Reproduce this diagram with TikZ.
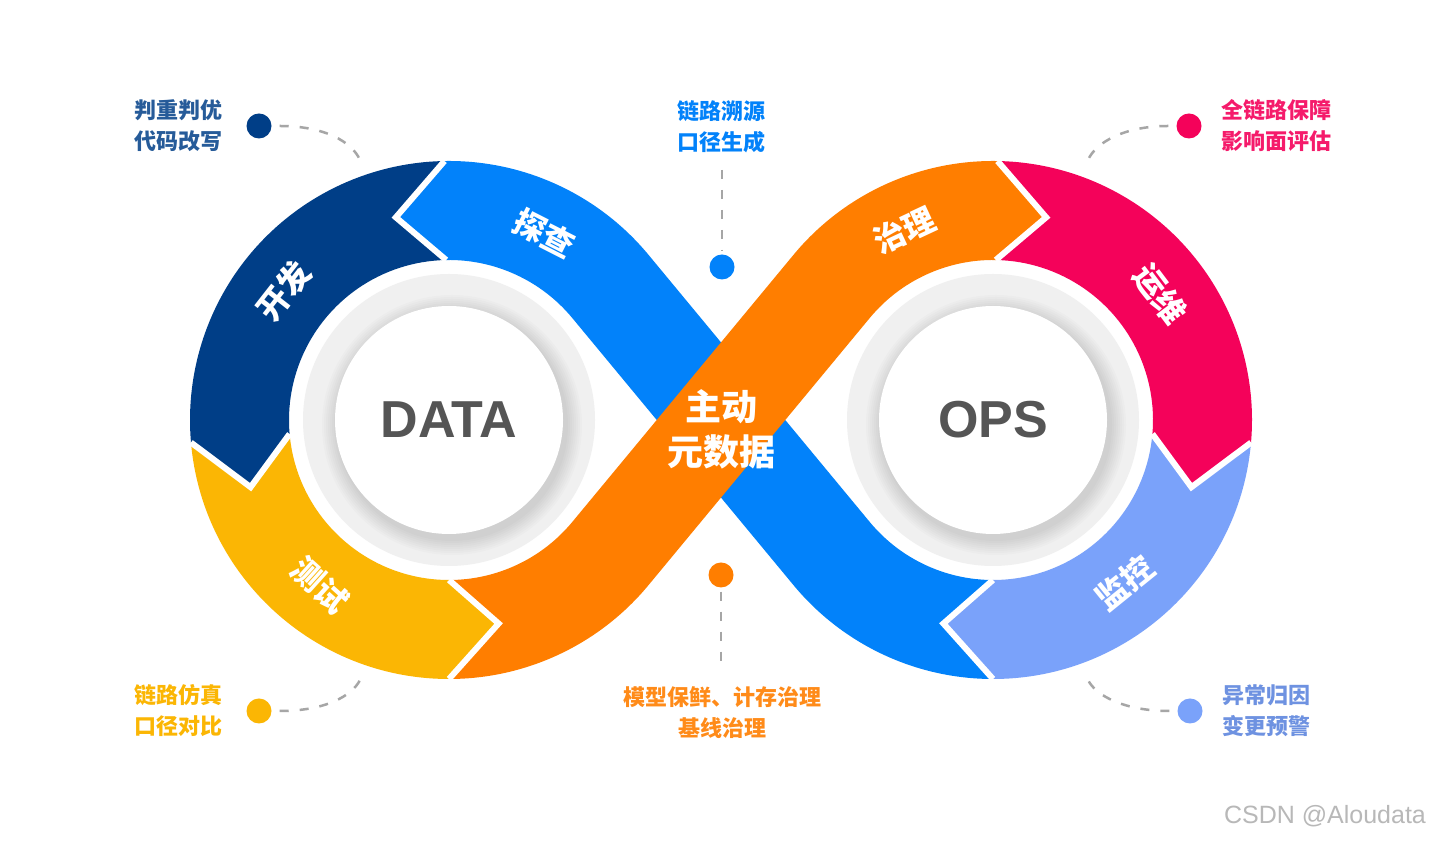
\documentclass[tikz,border=0pt]{standalone}
\usepackage{fontspec}
\setmainfont{Liberation Sans}
\newfontfamily\cjk{Noto Sans CJK SC}
\usetikzlibrary{calc, positioning}

\definecolor{kfblue}{HTML}{003E87}
\definecolor{tcblue}{HTML}{0282FA}
\definecolor{csyellow}{HTML}{FBB604}
\definecolor{zlorange}{HTML}{FF7E00}
\definecolor{ywpink}{HTML}{F4025A}
\definecolor{jkblue}{HTML}{7AA2FA}
\definecolor{hubgray}{HTML}{555555}

\def\rout{259}
\def\rin{160}
\def\rmid{209.5}

\tikzset{
	seglabel/.style = {text = white, inner sep = 0pt, font = \cjk\bfseries\fontsize{32}{32}\selectfont},
	note/.style = {inner sep = 0pt, align = center, font = \cjk\bfseries\fontsize{22}{31}\selectfont},
	notedot/.style = {circle, minimum size = 25pt, inner sep = 0pt},
	link/.style = {draw = black!35, line width = 2.5pt, dash pattern = on 9pt off 11pt},
	gapline/.style = {draw = white, line width = 6pt, line join = miter},
	hub/.style = {circle, fill = white, minimum size = 228pt, inner sep = 0pt, text = hubgray, font = \bfseries\fontsize{52}{52}\selectfont},
	midtext/.style = {align = center, inner sep = 0pt, font = \cjk\bfseries\fontsize{36}{45}\selectfont}
}

\begin{document}
\begin{tikzpicture}[x = 1pt, y = 1pt]
	\useasboundingbox (0,0) rectangle (1432,842);
	\fill[white] (0,0) rectangle (1432,842);
	
	\coordinate (L) at (449,422);
	\coordinate (R) at (993,422);
	
	%% discs
	\foreach \ctr/\hubtxt in {L/DATA, R/OPS} {
		\fill[black!6] (\ctr) circle[radius = 146];
		\foreach \i in {0,...,7}
		\fill[black, opacity = 0.015] ($(\ctr)+(3,-5)$) circle[radius = 116+2*\i];
		\node[hub] (\hubtxt) at (\ctr) {\hubtxt};
	}
	
	%% bands
	\fill[tcblue] ($(R)+(270:\rout)$) arc[start angle = 270, end angle = 219.6, radius = \rout]
	-- ($(L)+(39.6:\rin)$) arc[start angle = 39.6, end angle = 91, radius = \rin]
	-- ($(L)+(104.7:\rmid)$) -- ($(L)+(91:\rout)$)
	arc[start angle = 91, end angle = 39.6, radius = \rout]
	-- ($(R)+(219.6:\rin)$) arc[start angle = 219.6, end angle = 270, radius = \rin]
	-- ($(R)+(256.3:\rmid)$) -- cycle;
	
	\fill[kfblue] ($(L)+(91:\rout)$) arc[start angle = 91, end angle = 185, radius = \rout]
	-- ($(L)+(198.7:\rmid)$) -- ($(L)+(185:\rin)$)
	arc[start angle = 185, end angle = 91, radius = \rin]
	-- ($(L)+(104.7:\rmid)$) -- cycle;
	
	\fill[csyellow] ($(L)+(185:\rout)$) arc[start angle = 185, end angle = 270, radius = \rout]
	-- ($(L)+(283.7:\rmid)$) -- ($(L)+(270:\rin)$)
	arc[start angle = 270, end angle = 185, radius = \rin]
	-- ($(L)+(198.7:\rmid)$) -- cycle;
	
	\fill[ywpink] ($(R)+(89:\rout)$) arc[start angle = 89, end angle = -5, radius = \rout]
	-- ($(R)+(-18.7:\rmid)$) -- ($(R)+(-5:\rin)$)
	arc[start angle = -5, end angle = 89, radius = \rin]
	-- ($(R)+(75.3:\rmid)$) -- cycle;
	
	\fill[jkblue] ($(R)+(-5:\rout)$) arc[start angle = -5, end angle = -90, radius = \rout]
	-- ($(R)+(-103.7:\rmid)$) -- ($(R)+(-90:\rin)$)
	arc[start angle = -90, end angle = -5, radius = \rin]
	-- ($(R)+(-18.7:\rmid)$) -- cycle;
	
	\fill[zlorange] ($(L)+(270:\rout)$) arc[start angle = 270, end angle = 320.4, radius = \rout]
	-- ($(R)+(140.4:\rin)$) arc[start angle = 140.4, end angle = 89, radius = \rin]
	-- ($(R)+(75.3:\rmid)$) -- ($(R)+(89:\rout)$)
	arc[start angle = 89, end angle = 140.4, radius = \rout]
	-- ($(L)+(-39.6:\rin)$) arc[start angle = -39.6, end angle = -90, radius = \rin]
	-- ($(L)+(283.7:\rmid)$) -- cycle;
	
	%% gaps between the bands
	\foreach \ctr/\a/\t in {L/91/104.7, L/185/198.7, L/270/283.7, R/89/75.3, R/-5/-18.7, R/270/256.3}
	\draw[gapline] ($(\ctr)+(\a:\rout)$) -- ($(\ctr)+(\t:\rmid)$) -- ($(\ctr)+(\a:\rin)$);
	
	%% band labels
	\node[seglabel, rotate = 52] (kaifa) at ($(L)+(142:\rmid)$) {开发};
	\node[seglabel, rotate = -27] (tancha) at ($(L)+(63:\rmid)$) {探查};
	\node[seglabel, rotate = -42] (ceshi) at ($(L)+(232:\rmid)$) {测试};
	\node[seglabel, rotate = 25] (zhili) at ($(R)+(115:\rmid)$) {治理};
	\node[seglabel, rotate = -53] (yunwei) at ($(R)+(37:\rmid)$) {运维};
	\node[seglabel, rotate = 39] (jiankong) at ($(R)+(309:\rmid)$) {监控};
	
	%% centre text
	\node[midtext, text = white] (core) at (721,413) {主动\\元数据};
	
	%% dots
	\node[notedot, fill = kfblue] (tldot) at (259,716) {};
	\node[notedot, fill = tcblue] (tmdot) at (722,575) {};
	\node[notedot, fill = ywpink] (trdot) at (1189,716) {};
	\node[notedot, fill = csyellow] (bldot) at (259,131) {};
	\node[notedot, fill = zlorange] (bmdot) at (721,267) {};
	\node[notedot, fill = jkblue] (brdot) at (1190,131) {};
	
	%% notes
	\node[note, text = kfblue!85!white, left = 24pt of tldot] (tlnote) {判重判优\\代码改写};
	\node[note, text = tcblue] (tmnote) at (721,715.5) {链路溯源\\口径生成};
	\node[note, text = ywpink!90!white, right = 20pt of trdot] (trnote) {全链路保障\\影响面评估};
	\node[note, text = csyellow, left = 24pt of bldot] (blnote) {链路仿真\\口径对比};
	\node[note, text = zlorange!90!white] (bmnote) at (722,129) {模型保鲜、计存治理\\基线治理};
	\node[note, text = jkblue!90!black, right = 20pt of brdot] (brnote) {异常归因\\变更预警};
	
	%% dashed links
	\coordinate (tlend) at (360,682);
	\coordinate (trend) at (1088,682);
	\coordinate (blend) at (360,162);
	\coordinate (brend) at (1088,162);
	\coordinate (tmend) at (722,672);
	\coordinate (bmend) at (721,172);
	\draw[link, shorten <= 8pt] (tldot) .. controls (325,716) and (352,700) .. (tlend);
	\draw[link, shorten <= 8pt] (trdot) .. controls (1125,716) and (1096,700) .. (trend);
	\draw[link, shorten <= 8pt] (bldot) .. controls (325,131) and (352,146) .. (blend);
	\draw[link, shorten <= 8pt] (brdot) .. controls (1125,131) and (1096,146) .. (brend);
	\draw[link, shorten > = 4pt] (tmend) -- (tmdot);
	\draw[link, shorten < = 4pt] (bmdot) -- (bmend);
	
	%% watermark
	\node[text = black!28, font = \fontsize{25}{25}\selectfont] (mark) at (1325,26) {CSDN @Aloudata};
\end{tikzpicture}
\end{document}
